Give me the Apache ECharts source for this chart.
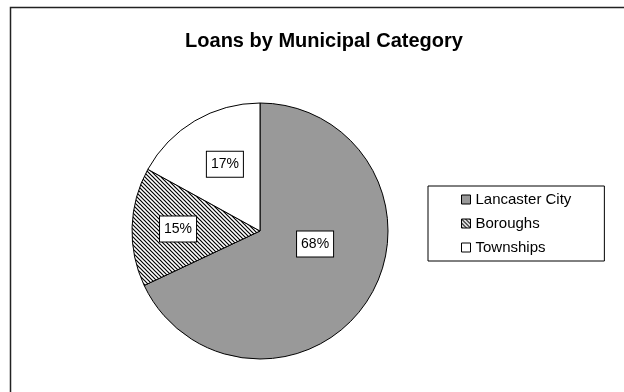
<!DOCTYPE html>
<html>
<head>
<meta charset="utf-8">
<script src="https://cdn.jsdelivr.net/npm/echarts@6/dist/echarts.min.js"></script>
<style>
  html, body { margin: 0; padding: 0; background: #fff; }
  #chart { width: 624px; height: 392px; }
</style>
</head>
<body>
<div id="chart"></div>
<script>
// Loan shares by municipal category (percent of total)
const categories = ['Lancaster City', 'Boroughs', 'Townships'];
const shares = [68, 15, 17];

// Label nudges relative to the default inside position
const labelNudges = [[-1.5, -23], [-15, 0], [-1, -9]];

// Diagonal hatch fill for the boroughs slice
function hatchPattern() {
  const size = 4;
  const c = document.createElement('canvas');
  c.width = size; c.height = size;
  const g = c.getContext('2d');
  g.fillStyle = '#ffffff';
  g.fillRect(0, 0, size, size);
  g.strokeStyle = '#000000';
  g.lineWidth = 1.2;
  g.beginPath();
  g.moveTo(-1, -1); g.lineTo(size + 1, size + 1);
  g.moveTo(-1, size - 1); g.lineTo(1, size + 1);
  g.moveTo(size - 1, -1); g.lineTo(size + 1, 1);
  g.stroke();
  return { image: c, repeat: 'repeat' };
}

const fills = ['#999999', hatchPattern(), '#ffffff'];

const chart = echarts.init(document.getElementById('chart'), null, { renderer: 'canvas' });

chart.setOption({
  animation: false,
  backgroundColor: '#ffffff',
  graphic: [{
    type: 'rect',
    shape: { x: 10.5, y: 7.5, width: 700, height: 500 },
    style: { fill: 'none', stroke: '#222', lineWidth: 1.5 },
    silent: true
  }],
  title: {
    text: 'Loans by Municipal Category',
    left: 319,
    top: 26,
    textAlign: 'center',
    textStyle: { fontFamily: 'Arial, Liberation Sans', fontWeight: 'bold', fontSize: 20, color: '#000' }
  },
  legend: {
    orient: 'vertical',
    left: 428,
    top: 186,
    data: categories,
    icon: 'rect',
    itemWidth: 9,
    itemHeight: 9,
    itemGap: 9,
    padding: [6, 33, 6, 33],
    borderColor: '#000',
    borderWidth: 1,
    backgroundColor: '#fff',
    textStyle: { fontFamily: 'Arial, Liberation Sans', fontSize: 15, color: '#000', padding: [0, 0, 0, 0] },
    itemStyle: { borderColor: '#000', borderWidth: 1 }
  },
  series: [{
    type: 'pie',
    center: [260, 231],
    radius: 128,
    startAngle: 90,
    clockwise: true,
    avoidLabelOverlap: false,
    itemStyle: { borderColor: '#000', borderWidth: 1 },
    label: {
      show: true,
      position: 'inside',
      formatter: '{c}%',
      fontFamily: 'Arial, Liberation Sans',
      fontSize: 14,
      color: '#000',
      backgroundColor: '#fff',
      borderColor: '#000',
      borderWidth: 1,
      padding: [6, 4, 5, 4]
    },
    labelLine: { show: false },
    labelLayout: function (p) {
      const n = labelNudges[p.dataIndex];
      return { dx: n[0], dy: n[1] };
    },
    emphasis: { disabled: true },
    data: categories.map((name, i) => ({
      name: name,
      value: shares[i],
      itemStyle: { color: fills[i] }
    }))
  }]
});
</script>
</body>
</html>
